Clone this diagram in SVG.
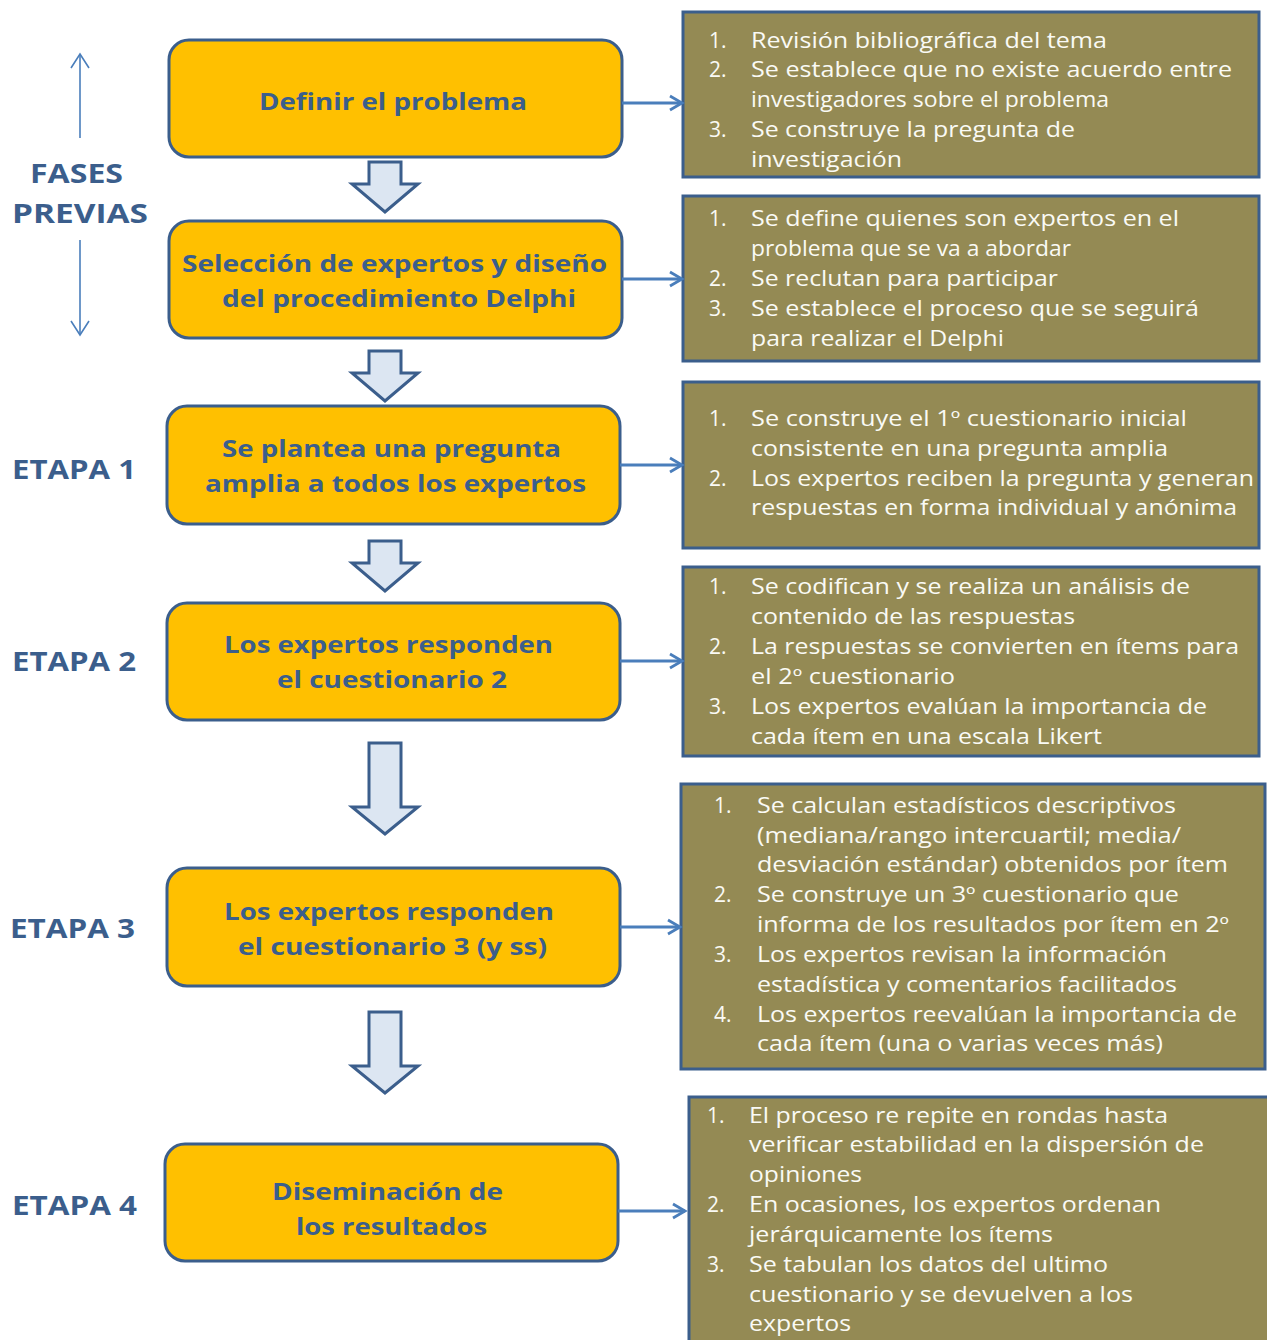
<svg xmlns="http://www.w3.org/2000/svg" width="1267" height="1340" viewBox="0 0 1267 1340">
<style>
.step{fill:#FFC000;stroke:#3B5E8C;stroke-width:3}
.info{fill:#948A54;stroke:#3B5E8C;stroke-width:3}
.title{font-family:"Open Sans","Liberation Sans",sans-serif;font-weight:bold;font-size:24px;fill:#3B5E8C;text-anchor:middle}
.lbl{font-family:"Open Sans","Liberation Sans",sans-serif;font-weight:bold;font-size:27px;fill:#3B5E8C}
.tx{font-family:"Open Sans","Liberation Sans",sans-serif;font-size:21px;fill:#FAFAF5}
.blk{fill:#DCE6F2;stroke:#3B5E8C;stroke-width:3;stroke-linejoin:miter}
.conn{stroke:#4A7EBB;stroke-width:2.8;fill:none}
.thin{stroke:#4A7EBB;stroke-width:1.6;fill:none}
</style>
<defs>
<marker id="ah" markerWidth="18" markerHeight="18" refX="15" refY="9" orient="auto" markerUnits="userSpaceOnUse">
<path d="M3,2 L15,9 L3,16" fill="none" stroke="#4A7EBB" stroke-width="2.8"/>
</marker>
<marker id="ah2" markerWidth="20" markerHeight="20" refX="15" refY="10" orient="auto" markerUnits="userSpaceOnUse">
<path d="M1,1 L15,10 L1,19" fill="none" stroke="#4A7EBB" stroke-width="1.6"/>
</marker>
</defs>

<g id="side-labels">
<line class="thin" x1="80" y1="138" x2="80" y2="54" marker-end="url(#ah2)"/>
<line class="thin" x1="80" y1="240" x2="80" y2="335" marker-end="url(#ah2)"/>
<text class="lbl" x="76.5" y="183" text-anchor="middle" textLength="93" lengthAdjust="spacingAndGlyphs">FASES</text>
<text class="lbl" x="80" y="223" text-anchor="middle" textLength="136" lengthAdjust="spacingAndGlyphs">PREVIAS</text>
<text class="lbl" x="12" y="479" textLength="124" lengthAdjust="spacingAndGlyphs">ETAPA 1</text>
<text class="lbl" x="12" y="671" textLength="124" lengthAdjust="spacingAndGlyphs">ETAPA 2</text>
<text class="lbl" x="10" y="938" textLength="125" lengthAdjust="spacingAndGlyphs">ETAPA 3</text>
<text class="lbl" x="12" y="1215" textLength="125" lengthAdjust="spacingAndGlyphs">ETAPA 4</text>
</g>

<g id="step1">
<rect class="step" x="169" y="40" width="453" height="117" rx="20"/>
<text class="title" x="393" y="110" textLength="268" lengthAdjust="spacingAndGlyphs">Definir el problema</text>
</g>
<g id="step2">
<rect class="step" x="169" y="221" width="453" height="117" rx="20"/>
<text class="title" x="394.5" y="272" textLength="425" lengthAdjust="spacingAndGlyphs">Selección de expertos y diseño</text>
<text class="title" x="399" y="307" textLength="354" lengthAdjust="spacingAndGlyphs">del procedimiento Delphi</text>
</g>
<g id="step3">
<rect class="step" x="167" y="406" width="453" height="118" rx="20"/>
<text class="title" x="391.5" y="457" textLength="339" lengthAdjust="spacingAndGlyphs">Se plantea una pregunta</text>
<text class="title" x="395.5" y="492" textLength="381" lengthAdjust="spacingAndGlyphs">amplia a todos los expertos</text>
</g>
<g id="step4">
<rect class="step" x="167" y="603" width="453" height="117" rx="20"/>
<text class="title" x="388.5" y="653" textLength="329" lengthAdjust="spacingAndGlyphs">Los expertos responden</text>
<text class="title" x="392" y="688" textLength="230" lengthAdjust="spacingAndGlyphs">el cuestionario 2</text>
</g>
<g id="step5">
<rect class="step" x="167" y="868" width="453" height="118" rx="20"/>
<text class="title" x="389" y="920" textLength="330" lengthAdjust="spacingAndGlyphs">Los expertos responden</text>
<text class="title" x="392.5" y="955" textLength="309" lengthAdjust="spacingAndGlyphs">el cuestionario 3 (y ss)</text>
</g>
<g id="step6">
<rect class="step" x="165" y="1144" width="453" height="117" rx="20"/>
<text class="title" x="387.5" y="1200" textLength="231" lengthAdjust="spacingAndGlyphs">Diseminación de</text>
<text class="title" x="391.5" y="1235" textLength="191" lengthAdjust="spacingAndGlyphs">los resultados</text>
</g>

<g id="info1">
<rect class="info" x="683" y="12" width="576" height="165"/>
<text class="tx" x="709" y="48">1.</text><text class="tx" x="751" y="48" textLength="356" lengthAdjust="spacingAndGlyphs">Revisión bibliográfica del tema</text>
<text class="tx" x="709" y="77">2.</text><text class="tx" x="751" y="77" textLength="481" lengthAdjust="spacingAndGlyphs">Se establece que no existe acuerdo entre</text>
<text class="tx" x="751" y="107" textLength="358" lengthAdjust="spacingAndGlyphs">investigadores sobre el problema</text>
<text class="tx" x="709" y="137">3.</text><text class="tx" x="751" y="137" textLength="324" lengthAdjust="spacingAndGlyphs">Se construye la pregunta de</text>
<text class="tx" x="751" y="167" textLength="151" lengthAdjust="spacingAndGlyphs">investigación</text>
</g>
<g id="info2">
<rect class="info" x="683" y="196" width="576" height="165"/>
<text class="tx" x="709" y="226">1.</text><text class="tx" x="751" y="226" textLength="428" lengthAdjust="spacingAndGlyphs">Se define quienes son expertos en el</text>
<text class="tx" x="751" y="256" textLength="320" lengthAdjust="spacingAndGlyphs">problema que se va a abordar</text>
<text class="tx" x="709" y="286">2.</text><text class="tx" x="751" y="286" textLength="307" lengthAdjust="spacingAndGlyphs">Se reclutan para participar</text>
<text class="tx" x="709" y="316">3.</text><text class="tx" x="751" y="316" textLength="448" lengthAdjust="spacingAndGlyphs">Se establece el proceso que se seguirá</text>
<text class="tx" x="751" y="346" textLength="253" lengthAdjust="spacingAndGlyphs">para realizar el Delphi</text>
</g>
<g id="info3">
<rect class="info" x="683" y="382" width="576" height="166"/>
<text class="tx" x="709" y="426">1.</text><text class="tx" x="751" y="426" textLength="436" lengthAdjust="spacingAndGlyphs">Se construye el 1º cuestionario inicial</text>
<text class="tx" x="751" y="456" textLength="417" lengthAdjust="spacingAndGlyphs">consistente en una pregunta amplia</text>
<text class="tx" x="709" y="486">2.</text><text class="tx" x="751" y="486" textLength="503" lengthAdjust="spacingAndGlyphs">Los expertos reciben la pregunta y generan</text>
<text class="tx" x="751" y="515" textLength="486" lengthAdjust="spacingAndGlyphs">respuestas en forma individual y anónima</text>
</g>
<g id="info4">
<rect class="info" x="683" y="567" width="576" height="189"/>
<text class="tx" x="709" y="594">1.</text><text class="tx" x="751" y="594" textLength="439" lengthAdjust="spacingAndGlyphs">Se codifican y se realiza un análisis de</text>
<text class="tx" x="751" y="624" textLength="324" lengthAdjust="spacingAndGlyphs">contenido de las respuestas</text>
<text class="tx" x="709" y="654">2.</text><text class="tx" x="751" y="654" textLength="488" lengthAdjust="spacingAndGlyphs">La respuestas se convierten en ítems para</text>
<text class="tx" x="751" y="684" textLength="204" lengthAdjust="spacingAndGlyphs">el 2º cuestionario</text>
<text class="tx" x="709" y="714">3.</text><text class="tx" x="751" y="714" textLength="456" lengthAdjust="spacingAndGlyphs">Los expertos evalúan la importancia de</text>
<text class="tx" x="751" y="744" textLength="351" lengthAdjust="spacingAndGlyphs">cada ítem en una escala Likert</text>
</g>
<g id="info5">
<rect class="info" x="681" y="784" width="584" height="285"/>
<text class="tx" x="714" y="813">1.</text><text class="tx" x="757" y="813" textLength="419" lengthAdjust="spacingAndGlyphs">Se calculan estadísticos descriptivos</text>
<text class="tx" x="757" y="843" textLength="424" lengthAdjust="spacingAndGlyphs">(mediana/rango intercuartil; media/</text>
<text class="tx" x="757" y="872" textLength="471" lengthAdjust="spacingAndGlyphs">desviación estándar) obtenidos por ítem</text>
<text class="tx" x="714" y="902">2.</text><text class="tx" x="757" y="902" textLength="422" lengthAdjust="spacingAndGlyphs">Se construye un 3º cuestionario que</text>
<text class="tx" x="757" y="932" textLength="472" lengthAdjust="spacingAndGlyphs">informa de los resultados por ítem en 2º</text>
<text class="tx" x="714" y="962">3.</text><text class="tx" x="757" y="962" textLength="410" lengthAdjust="spacingAndGlyphs">Los expertos revisan la información</text>
<text class="tx" x="757" y="992" textLength="420" lengthAdjust="spacingAndGlyphs">estadística y comentarios facilitados</text>
<text class="tx" x="714" y="1022">4.</text><text class="tx" x="757" y="1022" textLength="480" lengthAdjust="spacingAndGlyphs">Los expertos reevalúan la importancia de</text>
<text class="tx" x="757" y="1051" textLength="406" lengthAdjust="spacingAndGlyphs">cada ítem (una o varias veces más)</text>
</g>
<g id="info6">
<rect class="info" x="689" y="1097" width="590" height="260"/>
<text class="tx" x="707" y="1123">1.</text><text class="tx" x="749" y="1123" textLength="419" lengthAdjust="spacingAndGlyphs">El proceso re repite en rondas hasta</text>
<text class="tx" x="749" y="1152" textLength="455" lengthAdjust="spacingAndGlyphs">verificar estabilidad en la dispersión de</text>
<text class="tx" x="749" y="1182" textLength="113" lengthAdjust="spacingAndGlyphs">opiniones</text>
<text class="tx" x="707" y="1212">2.</text><text class="tx" x="749" y="1212" textLength="412" lengthAdjust="spacingAndGlyphs">En ocasiones, los expertos ordenan</text>
<text class="tx" x="749" y="1242" textLength="304" lengthAdjust="spacingAndGlyphs">jerárquicamente los ítems</text>
<text class="tx" x="707" y="1272">3.</text><text class="tx" x="749" y="1272" textLength="359" lengthAdjust="spacingAndGlyphs">Se tabulan los datos del ultimo</text>
<text class="tx" x="749" y="1302" textLength="384" lengthAdjust="spacingAndGlyphs">cuestionario y se devuelven a los</text>
<text class="tx" x="749" y="1331" textLength="102" lengthAdjust="spacingAndGlyphs">expertos</text>
</g>

<g id="connectors">
<path class="blk" d="M369,162 H401 V184 H418 L385,212 L352,184 H369 Z"/>
<path class="blk" d="M369,351 H401 V373 H418 L385,401 L352,373 H369 Z"/>
<path class="blk" d="M369,541 H401 V563 H418 L385,591 L352,563 H369 Z"/>
<path class="blk" d="M369,743 H401 V807 H418 L385,834 L352,807 H369 Z"/>
<path class="blk" d="M369,1012 H401 V1066 H418 L385,1093 L352,1066 H369 Z"/>
<line class="conn" x1="622" y1="103" x2="682" y2="103" marker-end="url(#ah)"/>
<line class="conn" x1="622" y1="279" x2="682" y2="279" marker-end="url(#ah)"/>
<line class="conn" x1="620" y1="465" x2="682" y2="465" marker-end="url(#ah)"/>
<line class="conn" x1="620" y1="661" x2="682" y2="661" marker-end="url(#ah)"/>
<line class="conn" x1="620" y1="927" x2="680" y2="927" marker-end="url(#ah)"/>
<line class="conn" x1="618" y1="1211" x2="685" y2="1211" marker-end="url(#ah)"/>
</g>
</svg>
